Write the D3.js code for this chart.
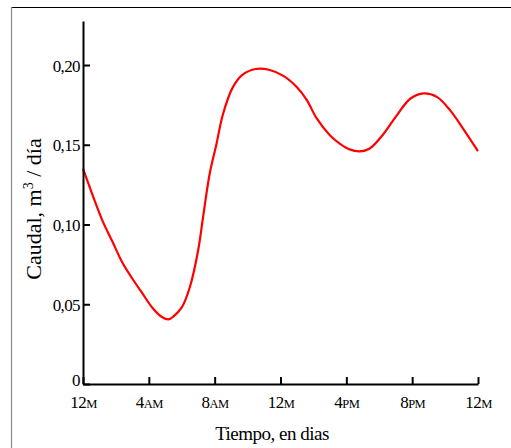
<!DOCTYPE html>
<html>
<head>
<meta charset="utf-8">
<script src="https://cdn.jsdelivr.net/npm/d3@7"></script>
<style>
  body { margin: 0; background: #fff; }
  svg { display: block; }
  .axis path, .axis line { stroke: #000; stroke-width: 2; }
  .axis text { font-family: "Liberation Serif", "Times New Roman", serif; fill: #000; }
  .title { font-family: "Liberation Serif", "Times New Roman", serif; fill: #000; }
</style>
</head>
<body>
<div id="chart"></div>
<script>
// hours after midnight and flow (m3/dia)
var hours = [0, 0.6, 1.2, 1.8, 2.4, 3, 3.6, 4.2, 4.8, 5.2, 5.5, 6, 6.5, 7, 7.3, 7.7, 8.1, 8.5, 9.1, 9.7,
             10.5, 11.3, 12.2, 13, 13.6, 14.2, 15, 15.6, 16.2, 16.8, 17.4, 18.2, 19, 19.9, 20.7, 21.5, 22.3, 23.1, 24];
var caudal = [0.135, 0.118, 0.102, 0.089, 0.076, 0.066, 0.057, 0.048, 0.042, 0.0405, 0.0424, 0.048, 0.061, 0.084, 0.105, 0.132, 0.15, 0.169, 0.186, 0.194,
              0.1975, 0.197, 0.193, 0.186, 0.178, 0.1665, 0.156, 0.1507, 0.1471, 0.1458, 0.1475, 0.156, 0.1675, 0.179, 0.1822, 0.180, 0.1717, 0.160, 0.146];

var xTicks = [0, 4, 8, 12, 16, 20, 24];
var xTickNum = ["12", "4", "8", "12", "4", "8", "12"];
var xTickSuffix = ["M", "AM", "AM", "M", "PM", "PM", "M"];
var yTicks = [0, 0.05, 0.10, 0.15, 0.20];
var yTickLabels = ["0", "0,05", "0,10", "0,15", "0,20"];

var w = 511, h = 448;

var dataset = hours.map(function (d, i) { return { hour: d, value: caudal[i] }; });

var svg = d3.select("#chart").append("svg")
    .attr("width", w)
    .attr("height", h);

// frame: black top line, grey left line
svg.append("line")
    .attr("x1", 11).attr("y1", 7.5).attr("x2", w).attr("y2", 7.5)
    .attr("stroke", "#000").attr("stroke-width", 1.2);
svg.append("line")
    .attr("x1", 11.5).attr("y1", 7).attr("x2", 11.5).attr("y2", h)
    .attr("stroke", "#888").attr("stroke-width", 1.2);

var xScale = d3.scaleLinear().domain([0, 24]).range([83, 478]);
var yScale = d3.scaleLinear().domain([0, 0.2276]).range([384, 21]);

var line = d3.line()
    .x(function (d) { return xScale(d.hour); })
    .y(function (d) { return yScale(d.value); })
    .curve(d3.curveCatmullRom.alpha(0.5));

svg.append("path")
    .datum(dataset)
    .attr("fill", "none")
    .attr("stroke", "#ff0000")
    .attr("stroke-width", 2.2)
    .attr("d", line);

// y axis
var yAxis = d3.axisLeft(yScale)
    .tickValues(yTicks)
    .tickSize(-7)
    .tickSizeOuter(0)
    .tickPadding(3)
    .tickFormat(function (d, i) { return yTickLabels[i]; });

var gy = svg.append("g")
    .attr("class", "axis")
    .attr("transform", "translate(83,0)")
    .call(yAxis);
gy.selectAll("text")
    .attr("font-size", 17)
    .attr("letter-spacing", "-0.6px")
    .attr("dy", null)
    .attr("y", function (d) { return d === 0 ? 1 : 6; });

// x axis
var xAxis = d3.axisBottom(xScale)
    .tickValues(xTicks)
    .tickSize(-7)
    .tickSizeOuter(0)
    .tickFormat("");

var gx = svg.append("g")
    .attr("class", "axis")
    .attr("transform", "translate(0,384)")
    .call(xAxis);
gx.selectAll(".tick text").each(function (d, i) {
    var t = d3.select(this).attr("dy", null).attr("y", 24).attr("letter-spacing", "-0.5px");
    t.append("tspan").attr("font-size", 17).text(xTickNum[i]);
    t.append("tspan").attr("font-size", 12.5).text(xTickSuffix[i]);
});

// axis titles
svg.append("text")
    .attr("class", "title")
    .attr("x", 272)
    .attr("y", 440)
    .attr("text-anchor", "middle")
    .attr("font-size", 19)
    .attr("letter-spacing", "-0.5px")
    .text("Tiempo, en dias");

var yt = svg.append("text")
    .attr("class", "title")
    .attr("transform", "translate(41,209) rotate(-90)")
    .attr("text-anchor", "middle")
    .attr("font-size", 22);
yt.append("tspan").text("Caudal, m");
yt.append("tspan").attr("font-size", 14).attr("dy", -8).text("3");
yt.append("tspan").attr("dy", 8).text(" / día");
</script>
</body>
</html>
